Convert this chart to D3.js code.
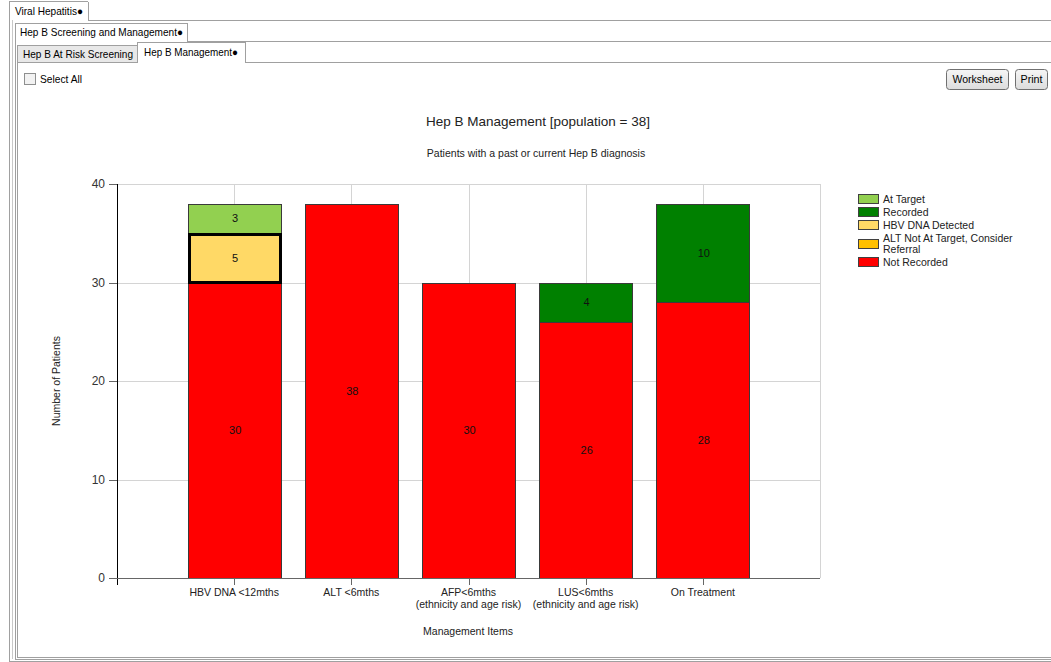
<!DOCTYPE html>
<html>
<head>
<meta charset="utf-8">
<script src="https://cdn.jsdelivr.net/npm/d3@7"></script>
<style>
body{margin:0;background:#fff;}
svg{font-family:"Liberation Sans",Arial,sans-serif;display:block;}
</style>
</head>
<body>
<div id="chart"></div>
<script>
// ---------------- data ----------------
var categories=["HBV DNA <12mths","ALT <6mths","AFP<6mths\n(ethnicity and age risk)","LUS<6mths\n(ethnicity and age risk)","On Treatment"];
var seriesNames=["At Target","Recorded","HBV DNA Detected","ALT Not At Target, Consider Referral","Not Recorded"];
var seriesColors=["#92d050","#008000","#ffd966","#ffc000","#ff0000"];
var notRecorded=[30,38,30,26,28];
var altNotAtTarget=[0,0,0,0,0];
var hbvDetected=[5,0,0,0,0];
var recorded=[0,0,0,4,10];
var atTarget=[3,0,0,0,0];
var yTicks=[0,10,20,30,40];
var selectedSeg={series:"HBV DNA Detected",cat:0};

var width=1051,height=662;
var svg=d3.select("#chart").append("svg").attr("width",width).attr("height",height);

// ---------------- window frame / tabs ----------------
var frame=svg.append("g").attr("class","frame");
var grey="#a0a0a0";
function hline(x1,x2,y,c){frame.append("line").attr("x1",x1).attr("x2",x2).attr("y1",y+0.5).attr("y2",y+0.5).attr("stroke",c||grey);}
function vline(x,y1,y2,c){frame.append("line").attr("x1",x+0.5).attr("x2",x+0.5).attr("y1",y1).attr("y2",y2).attr("stroke",c||grey);}
function label(x,y,txt,len){
	var t=frame.append("text").attr("x",x).attr("y",y).attr("font-size",11).text(txt);
	if(len){t.attr("textLength",len).attr("lengthAdjust","spacingAndGlyphs");}
	return t;
}

// outer tab
vline(9,2,661);vline(88,2,20);hline(9,88,1);
hline(88,1051,20);
hline(9,1051,661);
vline(12,20,659,"#c8c8c8");
label(15,15,"Viral Hepatitis\u25CF",68);

// second tab
vline(15,23,659);vline(187,23,41);hline(15,187,23);
hline(187,1051,41);
hline(15,1051,659);
label(20,36,"Hep B Screening and Management\u25CF",163);

// third level tabs
frame.append("rect").attr("x",17.5).attr("y",45.5).attr("width",120).attr("height",17).attr("fill","#e8e8e8").attr("stroke",grey);
label(23,58,"Hep B At Risk Screening",110);
frame.append("rect").attr("x",137.5).attr("y",42.5).attr("width",108).attr("height",20).attr("fill","#fff").attr("stroke","none");
vline(137,42,63);vline(245,42,62);hline(137,245,42);
hline(245,1051,62);
vline(17,62,657);
hline(17,1051,657);
label(144,56,"Hep B Management\u25CF",94);

// select all checkbox
frame.append("rect").attr("x",24.5).attr("y",73.5).attr("width",11).attr("height",11).attr("fill","#f2f2f2").attr("stroke","#8e8f8f");
label(40,83,"Select All",42);

// buttons
var grad=svg.append("defs").append("linearGradient").attr("id","btn").attr("x1",0).attr("x2",0).attr("y1",0).attr("y2",1);
grad.append("stop").attr("offset","0%").attr("stop-color","#f6f6f6");
grad.append("stop").attr("offset","100%").attr("stop-color","#dcdcdc");
var buttons=[{t:"Worksheet",x:946,w:62,l:50},{t:"Print",x:1015,w:32,l:22}];
buttons.forEach(function(b){
	frame.append("rect").attr("x",b.x+0.5).attr("y",69.5).attr("width",b.w).attr("height",20).attr("rx",3)
		.attr("fill","url(#btn)").attr("stroke","#707070");
	label(b.x+(b.w-b.l)/2+0.5,83,b.t,b.l);
});

// ---------------- chart ----------------
var plot={left:117,right:820,top:184,bottom:578};
var x=d3.scalePoint().domain(categories).range([plot.left,plot.right]).padding(1);
var y=d3.scaleLinear().domain([0,40]).range([plot.bottom,plot.top]);
var barw=93;

var chart=svg.append("g").attr("class","chart");

chart.append("text").attr("x",538).attr("y",126).attr("text-anchor","middle").attr("font-size",13.5).attr("fill","#222")
	.attr("textLength",224).attr("lengthAdjust","spacingAndGlyphs")
	.text("Hep B Management [population = 38]");
chart.append("text").attr("x",536).attr("y",157).attr("text-anchor","middle").attr("font-size",10.5).attr("fill","#222")
	.text("Patients with a past or current Hep B diagnosis");

// grid
var grid=chart.append("g").attr("class","grid");
grid.selectAll("line.h").data(yTicks.filter(function(d){return d>0;})).enter().append("line")
	.attr("x1",plot.left).attr("x2",plot.right)
	.attr("y1",function(d){return Math.round(y(d))+0.5;}).attr("y2",function(d){return Math.round(y(d))+0.5;})
	.attr("stroke","#d4d4d4");
grid.selectAll("line.v").data(categories).enter().append("line")
	.attr("x1",function(d){return Math.round(x(d))+0.5;}).attr("x2",function(d){return Math.round(x(d))+0.5;})
	.attr("y1",plot.top).attr("y2",plot.bottom).attr("stroke","#d4d4d4");
grid.append("line").attr("x1",plot.right+0.5).attr("x2",plot.right+0.5).attr("y1",plot.top).attr("y2",plot.bottom).attr("stroke","#d4d4d4");

// stacked bars
var rows=categories.map(function(c,i){
	return {cat:c,"Not Recorded":notRecorded[i],"ALT Not At Target, Consider Referral":altNotAtTarget[i],
		"HBV DNA Detected":hbvDetected[i],"Recorded":recorded[i],"At Target":atTarget[i]};
});
var stackOrder=seriesNames.slice().reverse();
var stacked=d3.stack().keys(stackOrder)(rows);
var color=d3.scaleOrdinal().domain(seriesNames).range(seriesColors);

var layers=chart.append("g").attr("class","bars").selectAll("g").data(stacked).enter().append("g")
	.attr("fill",function(d){return color(d.key);});
layers.each(function(layer){
	var g=d3.select(this);
	var segs=layer.filter(function(d){return d[1]-d[0]>0;});
	g.selectAll("rect").data(segs).enter().append("rect")
		.attr("x",function(d){return Math.round(x(d.data.cat)-barw/2)+0.5;})
		.attr("y",function(d){return Math.round(y(d[1]))+0.5;})
		.attr("width",barw)
		.attr("height",function(d){return Math.round(y(d[0]))-Math.round(y(d[1]));})
		.attr("stroke","#3a3a3a").attr("stroke-width",1);
	g.selectAll("text").data(segs).enter().append("text")
		.attr("x",function(d){return x(d.data.cat)+1;})
		.attr("y",function(d){return y((d[0]+d[1])/2)+4;})
		.attr("text-anchor","middle").attr("font-size",11).attr("fill","#111")
		.text(function(d){return d[1]-d[0];});
});
// highlight selected segment
var sl=stacked.filter(function(s){return s.key==selectedSeg.series;})[0];
var sd=sl[selectedSeg.cat];
chart.append("rect")
	.attr("x",Math.round(x(sd.data.cat)-barw/2)+1.5).attr("y",Math.round(y(sd[1]))+1.5)
	.attr("width",barw-2).attr("height",Math.round(y(sd[0]))-Math.round(y(sd[1]))-2)
	.attr("fill","none").attr("stroke","#000").attr("stroke-width",3);

// axes
var axisCol="#666";
var yAxis=chart.append("g").attr("class","yaxis");
yAxis.append("line").attr("x1",plot.left+0.5).attr("x2",plot.left+0.5).attr("y1",plot.top).attr("y2",plot.bottom+7).attr("stroke","#000");
yAxis.selectAll("line.t").data(yTicks).enter().append("line")
	.attr("x1",plot.left-8).attr("x2",plot.left)
	.attr("y1",function(d){return Math.round(y(d))+0.5;}).attr("y2",function(d){return Math.round(y(d))+0.5;})
	.attr("stroke",axisCol);
yAxis.selectAll("text").data(yTicks).enter().append("text")
	.attr("x",plot.left-12).attr("y",function(d){return y(d)+4;})
	.attr("text-anchor","end").attr("font-size",12).attr("fill","#333").text(function(d){return d;});

var xAxis=chart.append("g").attr("class","xaxis");
xAxis.append("line").attr("x1",plot.left).attr("x2",plot.right).attr("y1",plot.bottom+0.5).attr("y2",plot.bottom+0.5).attr("stroke",axisCol);
xAxis.selectAll("line.t").data(categories).enter().append("line")
	.attr("x1",function(d){return Math.round(x(d))+0.5;}).attr("x2",function(d){return Math.round(x(d))+0.5;})
	.attr("y1",plot.bottom).attr("y2",plot.bottom+7).attr("stroke",axisCol);
var xl=xAxis.selectAll("text").data(categories).enter().append("text")
	.attr("x",function(d){return x(d);}).attr("y",plot.bottom+18)
	.attr("text-anchor","middle").attr("font-size",10.5).attr("fill","#222");
xl.each(function(d){
	var t=d3.select(this);
	d.split("\n").forEach(function(s,i){
		t.append("tspan").attr("x",x(d)).attr("dy",i==0?0:11.5).text(s);
	});
});

chart.append("text").attr("x",468).attr("y",635).attr("text-anchor","middle").attr("font-size",10.5).attr("fill","#222")
	.text("Management Items");
chart.append("text").attr("transform","translate(60,381) rotate(-90)").attr("text-anchor","middle").attr("font-size",10.5).attr("fill","#222")
	.text("Number of Patients");

// legend
var legend=chart.append("g").attr("class","legend");
var legendY=[199,212,225,244,262];
seriesNames.forEach(function(s,i){
	legend.append("rect").attr("x",858.5).attr("y",legendY[i]-4.5).attr("width",20).attr("height",9)
		.attr("fill",seriesColors[i]).attr("stroke","#404040");
	var lines=s=="ALT Not At Target, Consider Referral"?["ALT Not At Target, Consider","Referral"]:[s];
	var t=legend.append("text").attr("x",883).attr("y",legendY[i]+4-(lines.length-1)*6).attr("font-size",10.5).attr("fill","#222");
	lines.forEach(function(l,j){t.append("tspan").attr("x",883).attr("dy",j==0?0:11).text(l);});
});
</script>
</body>
</html>
